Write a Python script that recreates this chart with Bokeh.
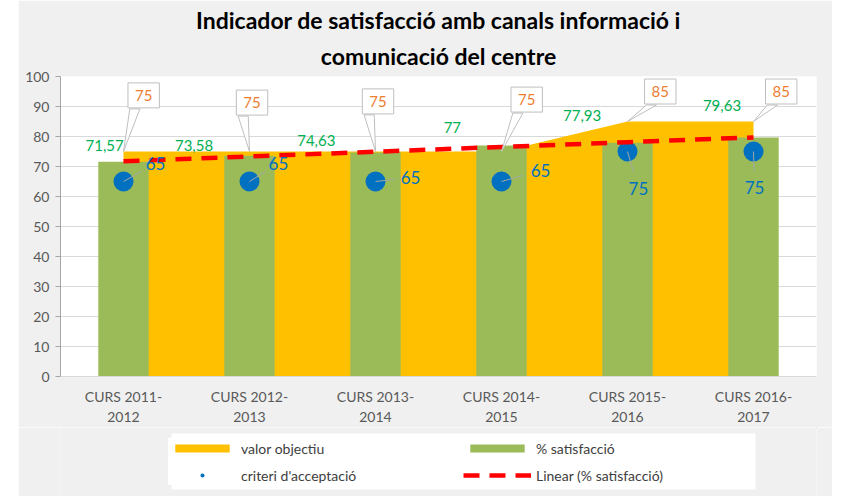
from bokeh.plotting import figure
from bokeh.models import Range1d, FixedTicker, Legend, LegendItem, Title, Spacer, BoxAnnotation
from bokeh.layouts import row, column
from bokeh.core.properties import value
from bokeh.embed import file_html
from bokeh.resources import INLINE
import numpy as np

# ---- data ----
categories = ["CURS 2011-2012", "CURS 2012-2013", "CURS 2013-2014",
              "CURS 2014-2015", "CURS 2015-2016", "CURS 2016-2017"]
tick_labels = ["CURS 2011-\n2012", "CURS 2012-\n2013", "CURS 2013-\n2014",
               "CURS 2014-\n2015", "CURS 2015-\n2016", "CURS 2016-\n2017"]
valor_objectiu = [75, 75, 75, 75, 85, 85]
satisfaccio = [71.57, 73.58, 74.63, 77, 77.93, 79.63]
criteri = [65, 65, 65, 65, 75, 75]
y_ticks = [0, 10, 20, 30, 40, 50, 60, 70, 80, 90, 100]

# ---- label placement (offsets in data units) ----
sat_lab_dx = [-0.15, -0.44, -0.47, -0.39, -0.36, -0.25]
sat_lab_dy = [5.3, 3.3, 4.0, 6.0, 9.0, 10.7]
obj_lab_dx = [0.16, 0.02, 0.02, 0.20, 0.26, 0.22]
obj_lab_dy = [18.7, 16.3, 16.7, 17.3, 10.0, 10.0]
cri_lab_dx = [0.254, 0.23, 0.278, 0.31, 0.087, 0.008]
cri_lab_dy = [6.0, 6.0, 1.3, 3.7, -12.3, -12.0]

FONT = "Lato"
BG = "#F0F0F0"
YELLOW = "#FFC000"
GREEN = "#9BBB59"
BLUE = "#0070C0"
RED = "#FF0000"
ORANGE = "#ED7D31"
LGREEN = "#00B050"
GREY_TXT = "#595959"

x = list(range(1, len(categories) + 1))


def fmt(v):
    return f"{v:g}".replace(".", ",")


W = 814
H_MAIN = 427
H_LEG = 69

p = figure(width=W, height=H_MAIN, output_backend="svg", toolbar_location=None,
           x_range=Range1d(0.5, 6.5), y_range=Range1d(0, 100), title=None,
           min_border_left=42, min_border_right=16, min_border_top=76,
           min_border_bottom=51)
p.background_fill_color = "white"
p.border_fill_color = BG
p.outline_line_color = None

p.add_layout(Title(text="comunicació del centre", align="center", text_font=FONT,
                   text_font_size="23px", text_font_style="bold", text_color="#000000",
                   standoff=13), "above")
p.add_layout(Title(text="Indicador de satisfacció amb canals informació i", align="center",
                   text_font=FONT, text_font_size="23px", text_font_style="bold",
                   text_color="#000000", standoff=0), "above")


def draw_series(fig):
    a = fig.varea(x=x, y1=[0] * len(x), y2=valor_objectiu, fill_color=YELLOW)
    b = fig.vbar(x=x, top=satisfaccio, width=0.4, fill_color=GREEN, line_color=None)
    s = fig.scatter(x=x, y=criteri, size=20, fill_color=BLUE, line_color=None)
    coef = np.polyfit(x, satisfaccio, 1)
    trend_y = list(np.polyval(coef, x))
    t = fig.line(x=x, y=trend_y, line_color=RED, line_width=4.5, line_dash="16 10")
    return a, b, s, t


area, bars, pts, trend = draw_series(p)

# leader lines for criteri labels
cx1 = [xi + 0.55 * d for xi, d in zip(x, cri_lab_dx)]
cy1 = [yi + 0.55 * d for yi, d in zip(criteri, cri_lab_dy)]
p.segment(x0=x, y0=criteri, x1=cx1, y1=cy1, line_color="#A6A6A6", line_width=1)

# callout wedges for valor objectiu labels
obj_lx = [xi + d for xi, d in zip(x, obj_lab_dx)]
obj_ly = [yi + d for yi, d in zip(valor_objectiu, obj_lab_dy)]
wx = [[xi, lx - 0.11, lx - 0.03] for xi, lx in zip(x, obj_lx)]
wy = [[yi, ly - 4.5, ly - 4.5] for yi, ly in zip(valor_objectiu, obj_ly)]
p.patches(xs=wx, ys=wy, fill_color="white", line_color="#BFBFBF", line_width=1)

# ---- data labels ----
p.text(x=[xi + d for xi, d in zip(x, sat_lab_dx)],
       y=[yi + d for yi, d in zip(satisfaccio, sat_lab_dy)],
       text=[fmt(v) for v in satisfaccio], text_color=LGREEN, text_font=value(FONT),
       text_font_size="15px", text_align="center", text_baseline="middle")

p.text(x=obj_lx, y=obj_ly, text=[fmt(v) for v in valor_objectiu], text_color=ORANGE,
       text_font=value(FONT), text_font_size="15px", text_align="center",
       text_baseline="middle", background_fill_color="white",
       border_line_color="#BFBFBF", padding=7)

p.text(x=[xi + d for xi, d in zip(x, cri_lab_dx)],
       y=[yi + d for yi, d in zip(criteri, cri_lab_dy)],
       text=[fmt(v) for v in criteri], text_color=BLUE, text_font=value(FONT),
       text_font_size="17px", text_align="center", text_baseline="middle")

# ---- axes ----
p.xaxis.ticker = FixedTicker(ticks=x)
p.xaxis.major_label_overrides = {xi: lbl for xi, lbl in zip(x, tick_labels)}
p.xaxis.major_tick_line_color = None
p.xaxis.minor_tick_line_color = None
p.xaxis.axis_line_color = "#D9D9D9"
p.xaxis.major_label_standoff = 5
p.xaxis.major_label_text_font = FONT
p.xaxis.major_label_text_font_size = "14px"
p.xaxis.major_label_text_color = GREY_TXT

p.yaxis.ticker = FixedTicker(ticks=y_ticks)
p.yaxis.major_tick_out = 5
p.yaxis.major_tick_in = 0
p.yaxis.minor_tick_line_color = None
p.yaxis.axis_line_color = "#A6A6A6"
p.yaxis.major_tick_line_color = "#A6A6A6"
p.yaxis.major_label_standoff = 6
p.yaxis.major_label_text_font = FONT
p.yaxis.major_label_text_font_size = "14px"
p.yaxis.major_label_text_color = GREY_TXT

p.xgrid.visible = False
p.ygrid.grid_line_color = "#D9D9D9"

# ---- legend (separate strip below the chart, same series styles) ----
lf = figure(width=W, height=H_LEG, output_backend="svg", toolbar_location=None,
            x_range=Range1d(-10, -9), y_range=Range1d(-10, -9),
            x_axis_type=None, y_axis_type=None, title=None,
            min_border_left=0, min_border_right=0, min_border_top=0, min_border_bottom=0)
lf.background_fill_color = BG
lf.border_fill_color = BG
lf.outline_line_color = None
lf.grid.visible = False
la, lb, ls, lt = draw_series(lf)

lf.add_layout(BoxAnnotation(left=111, right=695, top=7, bottom=63,
                            left_units="screen", right_units="screen",
                            top_units="screen", bottom_units="screen",
                            fill_color="white", fill_alpha=1.0, line_color=None))

legend = Legend(items=[LegendItem(label="valor objectiu", renderers=[la]),
                       LegendItem(label="% satisfacció", renderers=[lb]),
                       LegendItem(label="criteri d'acceptació", renderers=[ls]),
                       LegendItem(label="Linear (% satisfacció)", renderers=[lt])],
                location=(108, 11), orientation="horizontal", ncols=2,
                glyph_width=68, glyph_height=10, label_width=215, label_height=20,
                label_standoff=5, spacing=7, padding=8, margin=0,
                border_line_color=None, background_fill_color="white",
                background_fill_alpha=1.0, label_text_font=FONT,
                label_text_font_size="14px", label_text_color="#404040")
lf.add_layout(legend, "center")

layout = row(Spacer(width=18, height=H_MAIN + H_LEG), column(p, lf, spacing=0), spacing=0)
open("out.html", "w").write(file_html(layout, INLINE))
